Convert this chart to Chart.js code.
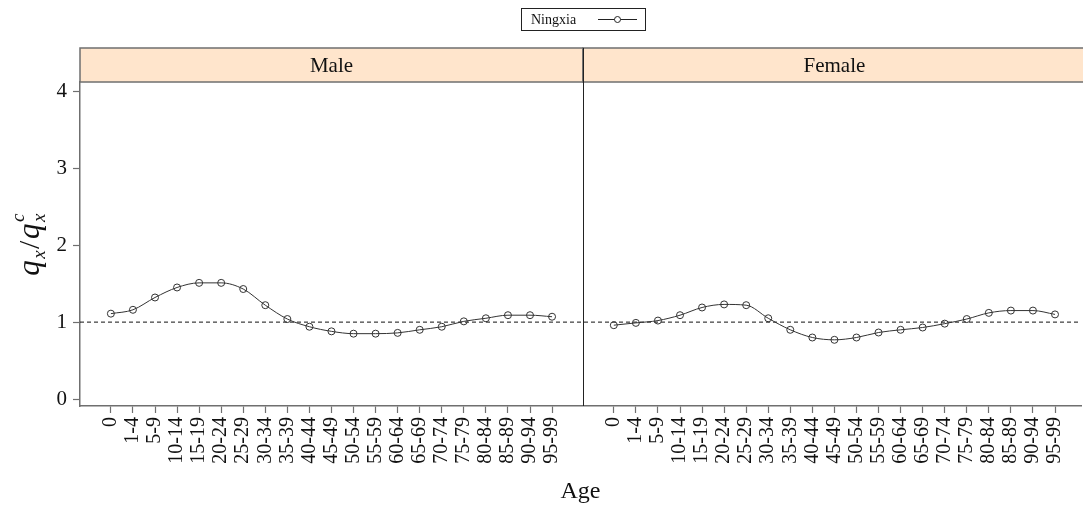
<!DOCTYPE html>
<html>
<head>
<meta charset="utf-8">
<script src="https://cdn.jsdelivr.net/npm/chart.js@4/dist/chart.umd.min.js"></script>
<style>
  html, body { margin: 0; padding: 0; background: #fff; }
  #wrap { width: 1083px; height: 506px; }
</style>
</head>
<body>
<div id="wrap"><canvas id="qxChart"></canvas></div>
<script>
// ---------- data ----------
const AGE_GROUPS = ["0", "1-4", "5-9", "10-14", "15-19", "20-24", "25-29", "30-34", "35-39", "40-44",
  "45-49", "50-54", "55-59", "60-64", "65-69", "70-74", "75-79", "80-84", "85-89", "90-94", "95-99"];
const PANELS = ["Male", "Female"];
const MALE_RATIO = [1.11, 1.16, 1.32, 1.45, 1.51, 1.51, 1.43, 1.22, 1.04, 0.94, 0.88,
  0.85, 0.85, 0.86, 0.90, 0.94, 1.01, 1.05, 1.09, 1.09, 1.07];
const FEMALE_RATIO = [0.96, 0.99, 1.02, 1.09, 1.19, 1.23, 1.22, 1.05, 0.90, 0.80, 0.77,
  0.80, 0.865, 0.90, 0.93, 0.98, 1.04, 1.12, 1.15, 1.15, 1.10];
const Y_TICKS = [0, 1, 2, 3, 4];
const REF_LEVEL = 1;
const SERIES_NAME = "Ningxia";

// ---------- layout (panel = 22.8 category units wide) ----------
const PAD = 1.4;
const PANEL_W = AGE_GROUPS.length - 1 + 2 * PAD;   // 22.8
const X_MIN = -PAD;
const X_MAX = 43.98;
const SERIF = "'Liberation Serif', 'DejaVu Serif', serif";
const FRAME = "#6f6f6f";

const malePts = MALE_RATIO.map((v, i) => ({ x: i, y: v }));
const femalePts = FEMALE_RATIO.map((v, i) => ({ x: PANEL_W + i, y: v }));
const xTickValues = AGE_GROUPS.map((_, i) => i).concat(AGE_GROUPS.map((_, i) => PANEL_W + i));

function labelFor(v) {
  const i = Math.round(v >= PANEL_W - PAD ? v - PANEL_W : v);
  return AGE_GROUPS[i] ?? "";
}

// ---------- strips, divider, legend, y title ----------
const decorPlugin = {
  id: "decor",
  afterDraw(chart) {
    const { ctx, chartArea, scales } = chart;
    const xs = scales.x;
    const stripH = 34;
    const stripTop = chartArea.top - stripH;
    ctx.save();

    // strips
    PANELS.forEach((name, p) => {
      const left = xs.getPixelForValue(X_MIN + p * PANEL_W);
      const right = xs.getPixelForValue(X_MIN + (p + 1) * PANEL_W);
      ctx.fillStyle = "#FFE5CC";
      ctx.fillRect(left, stripTop, right - left, stripH);
      ctx.strokeStyle = FRAME;
      ctx.lineWidth = 1.5;
      ctx.strokeRect(left, stripTop, right - left, stripH);
      ctx.fillStyle = "#111";
      ctx.font = "21px " + SERIF;
      ctx.textAlign = "center";
      ctx.textBaseline = "middle";
      ctx.fillText(name, (left + right) / 2, stripTop + stripH / 2 + 1);
    });

    // panel divider
    const midX = Math.round(xs.getPixelForValue(X_MIN + PANEL_W)) + 0.5;
    ctx.strokeStyle = "#222";
    ctx.lineWidth = 1;
    ctx.beginPath();
    ctx.moveTo(midX, stripTop);
    ctx.lineTo(midX, chartArea.bottom);
    ctx.stroke();

    // legend
    ctx.strokeStyle = "#222";
    ctx.strokeRect(521.5, 8.5, 124, 22);
    ctx.fillStyle = "#111";
    ctx.font = "14px " + SERIF;
    ctx.textAlign = "left";
    ctx.textBaseline = "middle";
    ctx.fillText(SERIES_NAME, 531, 20);
    ctx.beginPath();
    ctx.moveTo(598, 19.5);
    ctx.lineTo(637, 19.5);
    ctx.stroke();
    ctx.beginPath();
    ctx.arc(617.5, 19.5, 3, 0, Math.PI * 2);
    ctx.fillStyle = "#fff";
    ctx.fill();
    ctx.stroke();

    // y title: q_x / q_x^c
    const big = "italic 31px " + SERIF;
    const small = "italic 19px " + SERIF;
    const parts = [
      { t: "q", f: big, dy: 0 },
      { t: "x", f: small, dy: 6 },
      { t: "/", f: "30px " + SERIF, dy: 0 },
      { t: "q", f: big, dy: 0 },
      { t: "x", f: small, dy: 6, keep: true },
      { t: "c", f: small, dy: -15 }
    ];
    let total = 0;
    const widths = parts.map((pt) => { ctx.font = pt.f; return ctx.measureText(pt.t).width + 1.5; });
    parts.forEach((pt, i) => { if (!parts[i - 1] || !parts[i - 1].keep) total += widths[i]; });
    ctx.translate(33, (chartArea.top + chartArea.bottom) / 2);
    ctx.rotate(-Math.PI / 2);
    ctx.fillStyle = "#111";
    ctx.textAlign = "left";
    ctx.textBaseline = "alphabetic";
    let x = -total / 2;
    parts.forEach((pt, i) => {
      ctx.font = pt.f;
      const px = parts[i - 1] && parts[i - 1].keep ? x - widths[i - 1] : x;
      ctx.fillText(pt.t, px, pt.dy + 6);
      if (!(parts[i - 1] && parts[i - 1].keep)) x += widths[i];
    });
    ctx.restore();
  }
};

const seriesStyle = {
  borderColor: "#333",
  borderWidth: 1,
  pointRadius: 3.5,
  pointBorderColor: "#333",
  pointBackgroundColor: "rgba(0,0,0,0)",
  pointBorderWidth: 1,
  tension: 0.4,
  cubicInterpolationMode: "monotone"
};

new Chart(document.getElementById("qxChart"), {
  type: "scatter",
  data: {
    datasets: [
      { label: SERIES_NAME + " Male", data: malePts, showLine: true, ...seriesStyle },
      { label: SERIES_NAME + " Female", data: femalePts, showLine: true, ...seriesStyle },
      {
        label: "ref",
        data: [{ x: X_MIN, y: REF_LEVEL }, { x: X_MAX, y: REF_LEVEL }],
        showLine: true,
        borderColor: "#111",
        borderWidth: 1,
        borderDash: [4, 3],
        pointRadius: 0
      }
    ]
  },
  options: {
    responsive: true,
    maintainAspectRatio: false,
    animation: false,
    layout: { autoPadding: false, padding: { top: 82, left: 0, right: 0, bottom: 0 } },
    plugins: { legend: { display: false }, tooltip: { enabled: false } },
    scales: {
      x: {
        type: "linear",
        min: X_MIN,
        max: X_MAX,
        afterBuildTicks: (s) => { s.ticks = xTickValues.map((v) => ({ value: v })); },
        afterFit: (s) => { s.height = 100; },
        ticks: {
          minRotation: 90,
          maxRotation: 90,
          autoSkip: false,
          padding: 4,
          color: "#111",
          font: { family: SERIF, size: 20 },
          callback: (v) => labelFor(v)
        },
        grid: { drawOnChartArea: false, tickLength: 7, color: FRAME, tickWidth: 1.2 },
        border: { display: true, color: FRAME, width: 1.5 },
        title: {
          display: true,
          text: "Age",
          color: "#111",
          font: { family: SERIF, size: 24 },
          padding: { top: 0, bottom: 0 }
        }
      },
      y: {
        min: -0.09,
        max: 4.12,
        afterBuildTicks: (s) => { s.ticks = Y_TICKS.map((v) => ({ value: v })); },
        afterFit: (s) => { s.width = 80; },
        ticks: { color: "#111", padding: 6, font: { family: SERIF, size: 21 } },
        grid: { drawOnChartArea: false, tickLength: 7, color: FRAME, tickWidth: 1.2 },
        border: { display: true, color: FRAME, width: 1.5 }
      }
    }
  },
  plugins: [decorPlugin]
});
</script>
</body>
</html>
